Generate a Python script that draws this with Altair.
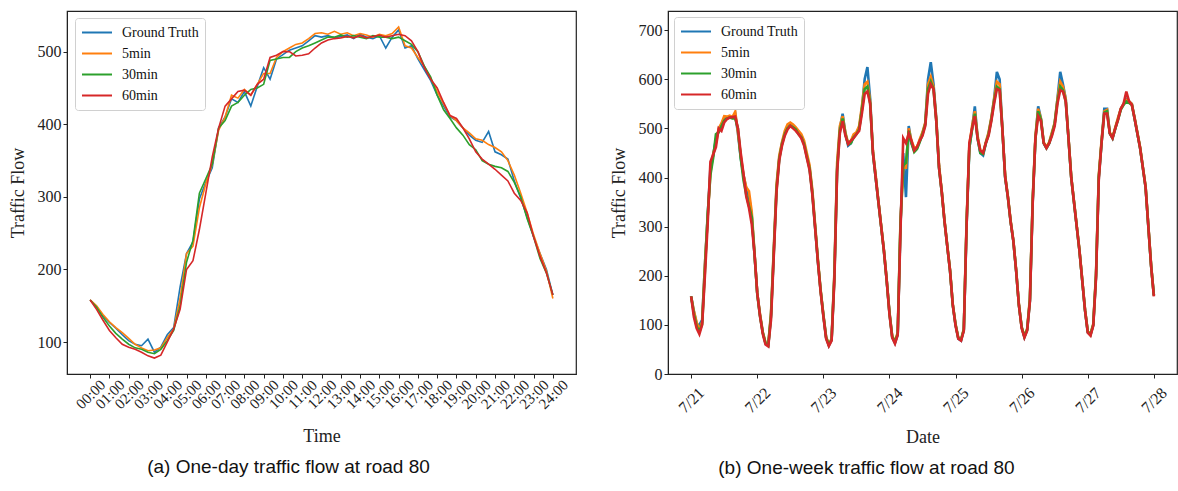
import json
import altair as alt
import pandas as pd

series_names = ["Ground Truth", "5min", "30min", "60min"]
series_colors = ["#1f77b4", "#ff7f0e", "#2ca02c", "#d62728"]

# ---------- one day (20-minute samples, 00:00 .. 24:00) ----------
day_minutes = list(range(0, 24 * 60 + 1, 20))

day_gt = [158, 149, 136, 127, 119, 110, 102, 97, 95, 104, 86, 93, 110, 120, 176, 222, 238, 297,
          320, 340, 395, 410, 435, 430, 445, 425, 452, 478, 462, 490, 496, 502, 505, 508, 515, 522,
          520, 522, 519, 521, 523, 518, 524, 520, 518, 522, 505, 520, 530, 505, 508, 490, 475, 460,
          440, 425, 410, 405, 395, 385, 378, 375, 390, 362, 358, 352, 322, 298, 272, 245, 222, 200, 165]
day_5min = [158, 150, 138, 128, 120, 113, 105, 97, 92, 88, 89, 92, 106, 118, 160, 222, 232, 285,
            318, 345, 392, 410, 440, 436, 448, 440, 455, 470, 470, 492, 500, 505, 510, 512, 518, 525,
            526, 524, 528, 524, 526, 522, 525, 523, 520, 524, 522, 525, 534, 508, 505, 492, 480, 463,
            445, 428, 412, 405, 395, 388, 380, 378, 372, 368, 362, 350, 330, 305, 278, 248, 222, 198, 160]
day_30min = [158, 148, 134, 122, 112, 104, 97, 92, 90, 86, 84, 90, 102, 116, 150, 210, 240, 305,
             325, 345, 395, 405, 425, 430, 440, 448, 450, 455, 488, 490, 492, 492, 500, 505, 508, 512,
             516, 520, 520, 523, 520, 522, 520, 518, 522, 520, 520, 518, 520, 515, 510, 500, 480, 465,
             440, 420, 408, 395, 385, 372, 365, 350, 345, 342, 340, 335, 320, 300, 270, 245, 215, 195, 165]
day_60min = [158, 145, 130, 116, 106, 97, 93, 90, 86, 81, 78, 82, 100, 118, 145, 200, 212, 255,
             305, 355, 395, 425, 435, 445, 447, 440, 455, 462, 492, 495, 500, 500, 494, 495, 497, 505,
             512, 516, 518, 519, 521, 519, 522, 519, 521, 523, 520, 522, 524, 522, 515, 500, 478, 462,
             450, 430, 412, 408, 395, 380, 362, 352, 345, 338, 330, 322, 305, 295, 278, 245, 218, 195, 165]

time_ticks = list(range(0, 25))
time_labels = ["%02d:00" % h for h in time_ticks]

# ---------- one week (hourly samples, 7/21 00:00 .. 7/28 00:00) ----------
week_gt = [
    158, 127, 102, 100, 110, 222, 320, 420, 445, 478, 496, 508, 520, 521, 524, 522, 530, 490, 440, 405, 378, 362, 322, 245,
    165, 120, 85, 62, 58, 120, 250, 380, 440, 470, 490, 505, 510, 505, 500, 490, 485, 470, 445, 420, 370, 300, 230, 170,
    120, 75, 58, 70, 200, 420, 500, 530, 490, 465, 470, 485, 490, 500, 540, 600, 625, 560, 450, 400, 350, 300, 250, 190,
    125, 75, 63, 80, 300, 450, 360, 505, 470, 455, 460, 475, 490, 510, 600, 635, 590, 520, 420, 370, 310, 260, 210, 140,
    100, 72, 68, 90, 300, 460, 500, 545, 480, 450, 445, 470, 490, 520, 560, 615, 600, 500, 400, 360, 310, 270, 210, 140,
    95, 75, 90, 150, 350, 480, 545, 520, 470, 460, 470, 490, 510, 560, 615, 590, 560, 480, 400, 350, 300, 250, 190, 130,
    85, 80, 100, 200, 400, 470, 540, 540, 490, 480, 500, 520, 540, 550, 560, 555, 550, 520, 490, 460, 420, 380, 300, 220,
    160]
week_5min = [
    158, 128, 105, 90, 106, 222, 318, 410, 448, 470, 500, 510, 525, 524, 526, 523, 534, 492, 445, 405, 380, 372, 330, 248,
    165, 122, 86, 64, 60, 125, 255, 385, 445, 472, 495, 508, 512, 508, 502, 495, 488, 475, 450, 425, 375, 305, 235, 172,
    122, 76, 60, 72, 205, 430, 505, 525, 492, 470, 475, 488, 492, 505, 545, 590, 595, 555, 455, 405, 352, 302, 252, 192,
    126, 78, 66, 85, 310, 420, 420, 500, 475, 460, 462, 478, 492, 512, 590, 605, 585, 520, 425, 372, 312, 262, 212, 142,
    102, 74, 70, 92, 310, 465, 505, 535, 485, 455, 450, 472, 492, 522, 560, 595, 590, 500, 405, 362, 312, 272, 212, 142,
    96, 77, 92, 155, 355, 485, 540, 520, 472, 462, 472, 492, 512, 560, 595, 585, 560, 482, 402, 352, 302, 252, 192, 132,
    87, 82, 102, 205, 405, 475, 535, 538, 492, 482, 502, 522, 540, 550, 558, 555, 550, 522, 492, 462, 422, 382, 302, 222,
    160]
week_30min = [
    158, 122, 97, 86, 102, 210, 325, 405, 440, 488, 492, 505, 516, 520, 522, 520, 520, 500, 440, 395, 365, 342, 320, 245,
    163, 118, 84, 63, 59, 118, 245, 375, 438, 468, 488, 500, 505, 502, 498, 488, 482, 468, 442, 418, 368, 300, 232, 170,
    120, 74, 59, 70, 195, 415, 495, 520, 488, 468, 470, 482, 488, 498, 538, 580, 585, 550, 450, 400, 350, 300, 250, 190,
    124, 76, 65, 82, 305, 425, 430, 495, 470, 452, 458, 472, 488, 508, 580, 595, 580, 515, 420, 370, 310, 260, 210, 140,
    100, 73, 70, 90, 305, 460, 498, 530, 480, 450, 448, 470, 488, 518, 555, 585, 580, 498, 402, 360, 310, 270, 210, 140,
    95, 76, 90, 150, 350, 478, 535, 518, 470, 460, 470, 488, 510, 555, 585, 578, 555, 480, 400, 350, 300, 250, 190, 130,
    86, 80, 100, 200, 400, 470, 532, 535, 490, 480, 500, 518, 538, 548, 555, 552, 548, 520, 490, 460, 420, 380, 300, 220,
    160]
week_60min = [
    158, 116, 93, 81, 100, 200, 305, 432, 447, 462, 500, 495, 512, 519, 522, 523, 524, 500, 450, 408, 362, 338, 305, 245,
    165, 118, 82, 60, 56, 110, 240, 370, 435, 465, 485, 498, 505, 500, 495, 488, 480, 465, 440, 415, 365, 298, 230, 168,
    118, 72, 57, 68, 190, 410, 490, 515, 485, 468, 475, 480, 488, 495, 530, 570, 575, 550, 450, 400, 350, 300, 250, 190,
    122, 74, 62, 80, 290, 480, 470, 490, 475, 455, 462, 475, 485, 505, 570, 590, 580, 515, 420, 370, 310, 260, 210, 140,
    98, 72, 68, 88, 300, 470, 500, 525, 480, 455, 450, 470, 485, 515, 550, 580, 578, 498, 402, 360, 310, 270, 210, 140,
    93, 74, 88, 148, 345, 480, 525, 515, 470, 460, 470, 485, 505, 550, 578, 575, 555, 480, 400, 350, 300, 250, 190, 130,
    84, 78, 98, 195, 395, 470, 530, 530, 490, 480, 500, 518, 540, 550, 575, 555, 548, 520, 490, 460, 420, 380, 300, 220,
    158]
week_hours = list(range(0, 7 * 24 + 1))

date_ticks = list(range(0, 8))
date_labels = ["7/21", "7/22", "7/23", "7/24", "7/25", "7/26", "7/27", "7/28"]

day_rows = []
for name, vals in zip(series_names, [day_gt, day_5min, day_30min, day_60min]):
    for m, v in zip(day_minutes, vals):
        day_rows.append({"hour": m / 60.0, "flow": v, "series": name})
df_day = pd.DataFrame(day_rows)

week_rows = []
for name, vals in zip(series_names, [week_gt, week_5min, week_30min, week_60min]):
    for h, v in zip(week_hours, vals):
        week_rows.append({"day": h / 24.0, "flow": v, "series": name})
df_week = pd.DataFrame(week_rows)

SERIF = "Liberation Serif"
SANS = "Liberation Sans"


def legend(x, y):
    return alt.Legend(title=None, orient="none", legendX=x, legendY=y,
                      symbolType="stroke", symbolSize=900, symbolStrokeWidth=2,
                      labelFont=SERIF, labelFontSize=14, labelColor="#111",
                      fillColor="white", strokeColor="#d0d0d0", cornerRadius=3,
                      padding=6, rowPadding=4, clipHeight=17, labelOffset=9)


color_scale = alt.Scale(domain=series_names, range=series_colors)

day_chart = alt.Chart(df_day).mark_line(strokeWidth=1.6).encode(
    x=alt.X("hour:Q",
            scale=alt.Scale(domain=[-1.2, 25.2], nice=False, zero=False),
            axis=alt.Axis(values=time_ticks,
                          labelExpr=json.dumps(time_labels) + "[datum.value]",
                          labelAngle=-45, labelAlign="center", labelBaseline="middle",
                          labelOverlap=False, labelFlush=False,
                          labelPadding=16, labelFontSize=15, title="Time", titlePadding=16)),
    y=alt.Y("flow:Q",
            scale=alt.Scale(domain=[56, 556], nice=False, zero=False),
            axis=alt.Axis(values=[100, 200, 300, 400, 500], title="Traffic Flow", titlePadding=10)),
    color=alt.Color("series:N", scale=color_scale, legend=legend(8, 7)),
).properties(
    width=509, height=363,
    title=alt.TitleParams("(a) One-day traffic flow at road 80", orient="bottom", anchor="middle",
                          font=SANS, fontSize=19, fontWeight="normal", color="#111", dx=-33, offset=12),
)

week_chart = alt.Chart(df_week).mark_line(strokeWidth=2.6).encode(
    x=alt.X("day:Q",
            scale=alt.Scale(domain=[-0.35, 7.35], nice=False, zero=False),
            axis=alt.Axis(values=date_ticks,
                          labelExpr=json.dumps(date_labels) + "[datum.value]",
                          labelAngle=-45, labelAlign="center", labelBaseline="middle",
                          labelOverlap=False, labelFlush=False,
                          labelPadding=22, labelFontSize=16, title="Date", titlePadding=13)),
    y=alt.Y("flow:Q",
            scale=alt.Scale(domain=[0, 739], nice=False, zero=False),
            axis=alt.Axis(values=[0, 100, 200, 300, 400, 500, 600, 700], title="Traffic Flow", titlePadding=10)),
    color=alt.Color("series:N", scale=color_scale, legend=legend(6, 6)),
).properties(
    width=509, height=363,
    title=alt.TitleParams("(b) One-week traffic flow at road 80", orient="bottom", anchor="middle",
                          font=SANS, fontSize=19, fontWeight="normal", color="#111", dx=-56, offset=12),
)

chart = alt.hconcat(day_chart, week_chart, spacing=92, bounds="flush").resolve_scale(
    color="independent"
).resolve_legend(color="independent").properties(
    padding={"left": 8, "top": 10, "right": 0, "bottom": 5},
    background="white",
).configure_view(
    stroke="#222", strokeWidth=1.2
).configure_axis(
    grid=False, domainColor="#222", tickColor="#222", tickSize=4,
    labelFont=SERIF, labelFontSize=16, labelColor="#222",
    titleFont=SERIF, titleFontSize=18, titleColor="#222", titleFontWeight="normal",
)

chart.save("out.html", embed_options={"renderer": "svg", "actions": False})
